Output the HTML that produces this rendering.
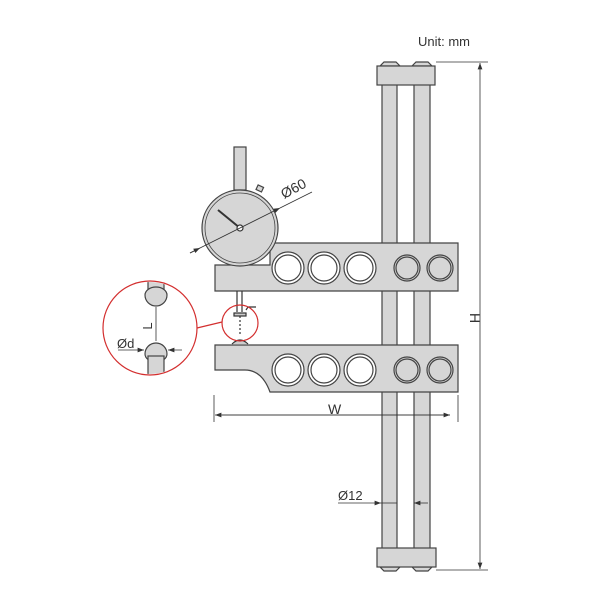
<!DOCTYPE html><html><head><style>body{margin:0;background:#fff}svg{display:block}text{font-family:"Liberation Sans",sans-serif;fill:#333}</style></head><body>
<svg width="600" height="600" viewBox="0 0 600 600">
<defs><marker id="a" markerWidth="8" markerHeight="6" refX="8" refY="3" orient="auto"><path d="M0,0L8,3L0,6z" fill="#333"/></marker></defs>
<g stroke="#444" stroke-width="1.2" fill="#d6d6d6">
<rect x="382" y="80" width="15" height="472"/>
<rect x="414" y="80" width="16" height="472"/>
<path d="M380,66 L384,62 L396,62 L400,66 Z M412,66 L416,62 L428,62 L432,66Z"/>
<rect x="377" y="66" width="58" height="19"/>
<path d="M380,567 L384,571 L396,571 L400,567 Z M412,567 L416,571 L428,571 L432,567Z"/>
<rect x="377" y="548" width="59" height="19"/>
<path d="M215,265 L270,265 L270,243 L458,243 L458,291 L215,291 Z"/>
<path d="M215,345 L458,345 L458,392 L270,392 Q262,370 245,370 L215,370 Z"/>
<rect x="234" y="147" width="12" height="43"/>
<circle cx="240" cy="228" r="38"/>
<circle cx="240" cy="228" r="35" fill="none" stroke-width="0.8"/>
<rect x="257" y="186" width="6" height="5" transform="rotate(25 260 188)"/>
</g>
<g fill="#fff" stroke="#444" stroke-width="1.2">
<circle cx="288" cy="268" r="16"/><circle cx="324" cy="268" r="16"/><circle cx="360" cy="268" r="16"/>
<circle cx="288" cy="268" r="13"/><circle cx="324" cy="268" r="13"/><circle cx="360" cy="268" r="13"/>
<circle cx="288" cy="370" r="16"/><circle cx="324" cy="370" r="16"/><circle cx="360" cy="370" r="16"/>
<circle cx="288" cy="370" r="13"/><circle cx="324" cy="370" r="13"/><circle cx="360" cy="370" r="13"/>
</g>
<g fill="#d6d6d6" stroke="#444" stroke-width="1.2">
<circle cx="407" cy="268" r="13"/><circle cx="440" cy="268" r="13"/>
<circle cx="407" cy="268" r="11"/><circle cx="440" cy="268" r="11"/>
<circle cx="407" cy="370" r="13"/><circle cx="440" cy="370" r="13"/>
<circle cx="407" cy="370" r="11"/><circle cx="440" cy="370" r="11"/>
</g>
<g stroke="#333" stroke-width="1.2" fill="none">
<line x1="240" y1="228" x2="218" y2="210" stroke-width="2"/>
<circle cx="240" cy="228" r="3" fill="#fff"/>
<line x1="190" y1="253" x2="280" y2="208" stroke-width="0.8" marker-end="url(#a)"/>
<line x1="280" y1="208" x2="312" y2="192" stroke-width="0.8"/>
<line x1="190" y1="253" x2="200" y2="248" stroke-width="0.8" marker-end="url(#a)"/>
<line x1="237" y1="291" x2="237" y2="312"/><line x1="242" y1="291" x2="242" y2="312"/>
<rect x="234" y="313" width="12" height="3" fill="#ccc"/>
<path d="M246,310 L248,307 L256,307"/>
<line x1="240" y1="316" x2="240" y2="336" stroke-dasharray="2,2"/>
<path d="M232,344 Q240,336 248,344" fill="#ccc"/>
<line x1="214" y1="395" x2="214" y2="422" stroke-width="0.8"/>
<line x1="458" y1="395" x2="458" y2="422" stroke-width="0.8"/>
<line x1="222" y1="415" x2="450" y2="415" stroke-width="0.8" marker-end="url(#a)"/>
<line x1="450" y1="415" x2="215" y2="415" stroke-width="0.8" marker-end="url(#a)"/>
<line x1="436" y1="62" x2="488" y2="62" stroke-width="0.8"/>
<line x1="436" y1="570" x2="488" y2="570" stroke-width="0.8"/>
<line x1="480" y1="300" x2="480" y2="63" stroke-width="0.8" marker-end="url(#a)"/>
<line x1="480" y1="300" x2="480" y2="569" stroke-width="0.8" marker-end="url(#a)"/>
<line x1="338" y1="503" x2="381" y2="503" stroke-width="0.8" marker-end="url(#a)"/>
<line x1="381" y1="503" x2="397" y2="503" stroke-width="0.8"/>
<line x1="428" y1="503" x2="414" y2="503" stroke-width="0.8" marker-end="url(#a)"/>
</g>
<g stroke="#d32f2f" stroke-width="1.2" fill="none">
<circle cx="150" cy="328" r="47"/>
<circle cx="240" cy="323" r="18"/>
<line x1="197" y1="328" x2="222" y2="322"/>
</g>
<clipPath id="c"><circle cx="150" cy="328" r="46"/></clipPath>
<g clip-path="url(#c)" stroke="#444" stroke-width="1.2" fill="#d6d6d6">
<rect x="148" y="270" width="16" height="26"/>
<path d="M145,295 A11,11 0 0 0 167,295 A11,8 0 0 0 145,295Z"/>
<path d="M145,354 A11,11 0 0 1 167,354 A11,8 0 0 1 145,354Z"/>
<rect x="148" y="356" width="16" height="30"/>
<line x1="156" y1="307" x2="156" y2="341" stroke="#333" stroke-width="0.8"/>
<line x1="118" y1="350" x2="144" y2="350" stroke="#333" stroke-width="0.8" marker-end="url(#a)"/>
<line x1="182" y1="350" x2="168" y2="350" stroke="#333" stroke-width="0.8" marker-end="url(#a)"/>
</g>
<text x="418" y="46" font-size="13">Unit: mm</text>
<text x="328" y="414" font-size="14">W</text>
<text x="470" y="318" font-size="14" transform="rotate(90 470 318)" text-anchor="middle">H</text>
<text x="338" y="500" font-size="13">Ø12</text>
<text x="284" y="199" font-size="14" transform="rotate(-28 284 199)">Ø60</text>
<text x="117" y="348" font-size="13">Ød</text>
<text x="152" y="326" font-size="13" transform="rotate(-90 152 326)" text-anchor="middle">L</text>
</svg></body></html>
